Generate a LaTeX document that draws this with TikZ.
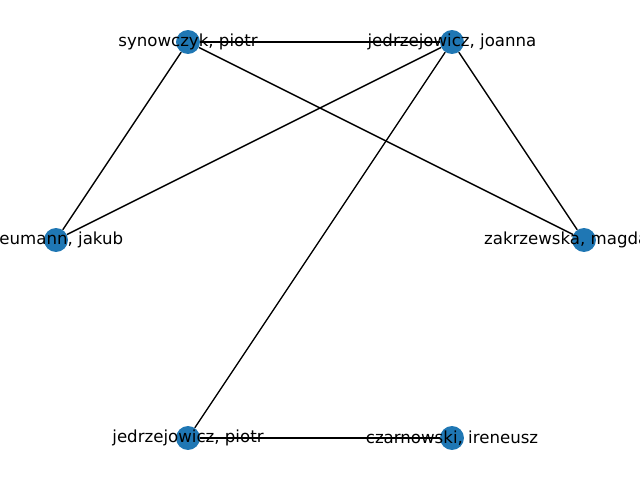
\documentclass[tikz,border=0pt]{standalone}
\usepackage{fontspec}
\setmainfont{DejaVu Sans}
\usetikzlibrary{backgrounds}
\definecolor{nodeblue}{HTML}{1F77B4}
\tikzset{
  authornode/.style={circle, fill=nodeblue, inner sep=0pt, minimum size=17.3pt},
  authorname/.style={inner sep=0pt, font=\fontsize{12}{14}\selectfont, text=black},
  coauthor/.style={draw=black, line width=1pt}
}
\begin{document}
\begin{tikzpicture}[x=0.01in, y=-0.01in]
      % Frame
      \useasboundingbox (0,0) rectangle (640,480);
      \clip (0,0) rectangle (640,480);

      % Authors
      \node[authornode] (syn) at (188,42) {};
      \node[authornode] (joa) at (452,42) {};
      \node[authornode] (neu) at (56,240) {};
      \node[authornode] (zak) at (584,240) {};
      \node[authornode] (pio) at (188,438) {};
      \node[authornode] (cza) at (452,438) {};

      % Co-authorships
      \begin{scope}[on background layer]
        \draw[coauthor] (syn) -- (joa);
        \draw[coauthor] (syn) -- (neu);
        \draw[coauthor] (syn) -- (zak);
        \draw[coauthor] (joa) -- (neu);
        \draw[coauthor] (joa) -- (zak);
        \draw[coauthor] (joa) -- (pio);
        \draw[coauthor] (pio) -- (cza);
      \end{scope}

      % Names
      \node[authorname] (syn-t) at (syn) {synowczyk, piotr};
      \node[authorname] (joa-t) at (joa) {jedrzejowicz, joanna};
      \node[authorname] (neu-t) at (neu) {neumann, jakub};
      \node[authorname] (zak-t) at (zak) {zakrzewska, magdalena};
      \node[authorname] (pio-t) at (pio) {jedrzejowicz, piotr};
      \node[authorname] (cza-t) at (cza) {czarnowski, ireneusz};
    \end{tikzpicture}
\end{document}
